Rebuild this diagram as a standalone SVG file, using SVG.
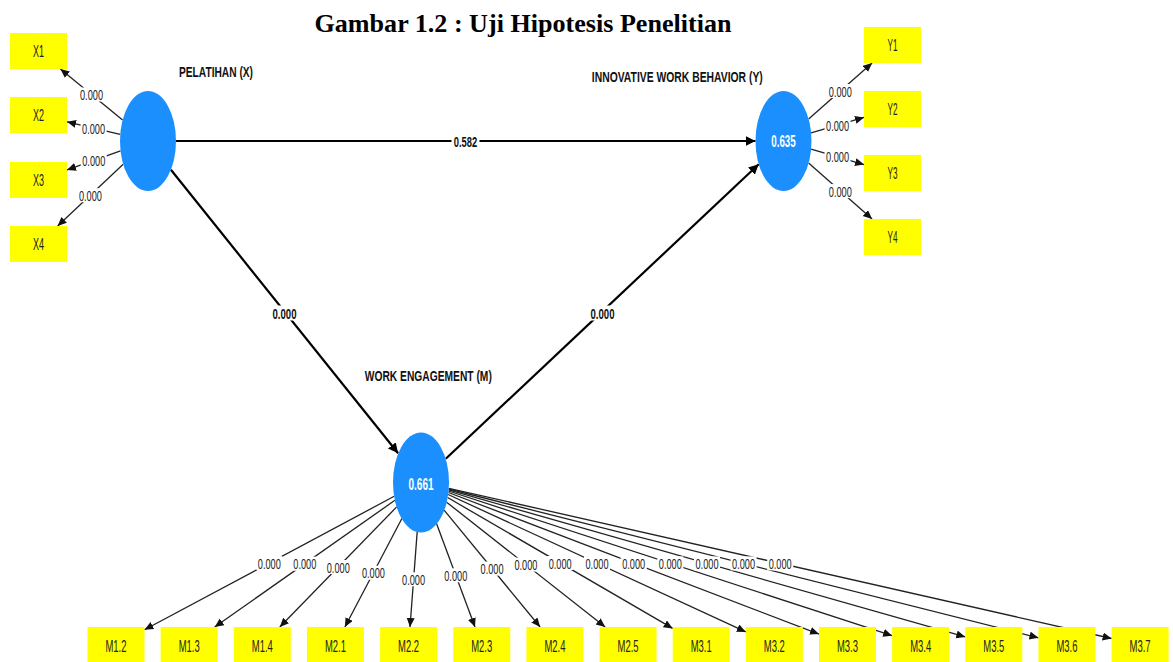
<svg xmlns="http://www.w3.org/2000/svg" width="1173" height="662" viewBox="0 0 1173 662">
<style>
.title{font-family:"Liberation Serif","Times New Roman",serif;font-weight:bold;font-size:26px;fill:#000}
.ind{fill:#ffff00}
.lv{fill:#1a8ffd}
.it{font-family:"Liberation Sans",Arial,sans-serif;font-size:16px;fill:#222;text-anchor:middle}
.vt{font-family:"Liberation Sans",Arial,sans-serif;font-size:16px;font-weight:bold;fill:#fff;text-anchor:middle}
.cn{font-family:"Liberation Sans",Arial,sans-serif;font-size:15px;font-weight:bold;fill:#111;text-anchor:middle}
.s{stroke:#000;stroke-width:2.2;fill:none}
.l{stroke:#222;stroke-width:1.3;fill:none}
.bg{fill:#fff}
.lt{font-family:"Liberation Sans",Arial,sans-serif;font-size:15.5px;fill:#222;text-anchor:middle}
.bt{font-family:"Liberation Sans",Arial,sans-serif;font-size:15px;font-weight:bold;fill:#111;text-anchor:middle}
</style>
<defs>
<marker id="big" markerUnits="userSpaceOnUse" markerWidth="11" markerHeight="11" refX="10" refY="5" orient="auto"><path d="M0,0 L10,5 L0,10 z" fill="#000"/></marker>
<marker id="sm" markerUnits="userSpaceOnUse" markerWidth="10" markerHeight="10" refX="9" refY="4" orient="auto"><path d="M0,0 L9,4 L0,8 z" fill="#111"/></marker>
</defs>
<text class="title" x="523" y="32" text-anchor="middle" textLength="417" lengthAdjust="spacingAndGlyphs">Gambar 1.2 : Uji Hipotesis Penelitian</text>
<g id="connectors">
<line class="s" x1="176" y1="141" x2="755.5" y2="141" marker-end="url(#big)"/>
<line class="s" x1="170.9" y1="169.7" x2="398.1" y2="453.3" marker-end="url(#big)"/>
<line class="s" x1="445.8" y1="458.7" x2="758.7" y2="164.3" marker-end="url(#big)"/>
<line class="l" x1="122.6" y1="120.1" x2="60.4" y2="69" marker-end="url(#sm)"/>
<line class="l" x1="120.2" y1="134.4" x2="67" y2="121.8" marker-end="url(#sm)"/>
<line class="l" x1="120.5" y1="150.8" x2="67" y2="169.9" marker-end="url(#sm)"/>
<line class="l" x1="123.2" y1="164.3" x2="57.6" y2="226" marker-end="url(#sm)"/>
<line class="l" x1="808.6" y1="118.9" x2="872.1" y2="63" marker-end="url(#sm)"/>
<line class="l" x1="811.1" y1="132.9" x2="864" y2="117.4" marker-end="url(#sm)"/>
<line class="l" x1="811.1" y1="149.1" x2="864" y2="164.6" marker-end="url(#sm)"/>
<line class="l" x1="808.6" y1="163.1" x2="872.1" y2="219" marker-end="url(#sm)"/>
<line class="l" x1="394.2" y1="496.3" x2="144.5" y2="629.8" marker-end="url(#sm)"/>
<line class="l" x1="394.9" y1="500.3" x2="214.7" y2="627" marker-end="url(#sm)"/>
<line class="l" x1="396.7" y1="506.9" x2="279.8" y2="627" marker-end="url(#sm)"/>
<line class="l" x1="401.9" y1="518.5" x2="344.9" y2="627" marker-end="url(#sm)"/>
<line class="l" x1="417.2" y1="531.6" x2="410" y2="627" marker-end="url(#sm)"/>
<line class="l" x1="436.5" y1="523.6" x2="475" y2="627" marker-end="url(#sm)"/>
<line class="l" x1="444.1" y1="510.2" x2="540.1" y2="627" marker-end="url(#sm)"/>
<line class="l" x1="446.6" y1="502.2" x2="605.2" y2="627" marker-end="url(#sm)"/>
<line class="l" x1="447.6" y1="497.5" x2="672.7" y2="628.4" marker-end="url(#sm)"/>
<line class="l" x1="448.1" y1="494.5" x2="745.85" y2="631.9" marker-end="url(#sm)"/>
<line class="l" x1="448.4" y1="492.5" x2="819" y2="634.1" marker-end="url(#sm)"/>
<line class="l" x1="448.5" y1="491" x2="892.15" y2="635.7" marker-end="url(#sm)"/>
<line class="l" x1="448.65" y1="489.9" x2="965.3" y2="636.9" marker-end="url(#sm)"/>
<line class="l" x1="448.7" y1="489" x2="1038.45" y2="637.8" marker-end="url(#sm)"/>
<line class="l" x1="448.8" y1="488.3" x2="1111.6" y2="638.5" marker-end="url(#sm)"/>
<rect class="bg" x="451.5" y="133.5" width="28" height="15"/><text class="bt" x="465.5" y="146.5" textLength="23.5" lengthAdjust="spacingAndGlyphs">0.582</text>
<rect class="bg" x="271" y="305.5" width="27" height="15"/><text class="bt" x="284.5" y="318.5" textLength="24" lengthAdjust="spacingAndGlyphs">0.000</text>
<rect class="bg" x="589" y="305.5" width="27" height="15"/><text class="bt" x="602.5" y="318.5" textLength="24" lengthAdjust="spacingAndGlyphs">0.000</text>
<g>
<rect class="bg" x="78.5" y="87.5" width="26" height="14"/><text class="lt" x="91.5" y="100" textLength="23" lengthAdjust="spacingAndGlyphs">0.000</text>
<rect class="bg" x="80.6" y="121.1" width="26" height="14"/><text class="lt" x="93.6" y="133.6" textLength="23" lengthAdjust="spacingAndGlyphs">0.000</text>
<rect class="bg" x="80.75" y="153.4" width="26" height="14"/><text class="lt" x="93.75" y="165.9" textLength="23" lengthAdjust="spacingAndGlyphs">0.000</text>
<rect class="bg" x="77.4" y="188.2" width="26" height="14"/><text class="lt" x="90.4" y="200.7" textLength="23" lengthAdjust="spacingAndGlyphs">0.000</text>
<rect class="bg" x="827.35" y="84" width="26" height="14"/><text class="lt" x="840.35" y="96.5" textLength="23" lengthAdjust="spacingAndGlyphs">0.000</text>
<rect class="bg" x="824.55" y="118.2" width="26" height="14"/><text class="lt" x="837.55" y="130.7" textLength="23" lengthAdjust="spacingAndGlyphs">0.000</text>
<rect class="bg" x="824.55" y="149.9" width="26" height="14"/><text class="lt" x="837.55" y="162.4" textLength="23" lengthAdjust="spacingAndGlyphs">0.000</text>
<rect class="bg" x="827.35" y="184.1" width="26" height="14"/><text class="lt" x="840.35" y="196.6" textLength="23" lengthAdjust="spacingAndGlyphs">0.000</text>
<rect class="bg" x="256.35" y="556.1" width="26" height="14"/><text class="lt" x="269.35" y="568.6" textLength="23" lengthAdjust="spacingAndGlyphs">0.000</text>
<rect class="bg" x="291.8" y="556.7" width="26" height="14"/><text class="lt" x="304.8" y="569.2" textLength="23" lengthAdjust="spacingAndGlyphs">0.000</text>
<rect class="bg" x="325.25" y="560" width="26" height="14"/><text class="lt" x="338.25" y="572.5" textLength="23" lengthAdjust="spacingAndGlyphs">0.000</text>
<rect class="bg" x="360.4" y="565.8" width="26" height="14"/><text class="lt" x="373.4" y="578.3" textLength="23" lengthAdjust="spacingAndGlyphs">0.000</text>
<rect class="bg" x="400.6" y="572.3" width="26" height="14"/><text class="lt" x="413.6" y="584.8" textLength="23" lengthAdjust="spacingAndGlyphs">0.000</text>
<rect class="bg" x="442.75" y="568.3" width="26" height="14"/><text class="lt" x="455.75" y="580.8" textLength="23" lengthAdjust="spacingAndGlyphs">0.000</text>
<rect class="bg" x="479.1" y="561.6" width="26" height="14"/><text class="lt" x="492.1" y="574.1" textLength="23" lengthAdjust="spacingAndGlyphs">0.000</text>
<rect class="bg" x="512.9" y="557.6" width="26" height="14"/><text class="lt" x="525.9" y="570.1" textLength="23" lengthAdjust="spacingAndGlyphs">0.000</text>
<rect class="bg" x="547.15" y="556" width="26" height="14"/><text class="lt" x="560.15" y="568.5" textLength="23" lengthAdjust="spacingAndGlyphs">0.000</text>
<rect class="bg" x="584" y="556.2" width="26" height="14"/><text class="lt" x="597" y="568.7" textLength="23" lengthAdjust="spacingAndGlyphs">0.000</text>
<rect class="bg" x="620.7" y="556.3" width="26" height="14"/><text class="lt" x="633.7" y="568.8" textLength="23" lengthAdjust="spacingAndGlyphs">0.000</text>
<rect class="bg" x="657.3" y="556.35" width="26" height="14"/><text class="lt" x="670.3" y="568.85" textLength="23" lengthAdjust="spacingAndGlyphs">0.000</text>
<rect class="bg" x="694" y="556.4" width="26" height="14"/><text class="lt" x="707" y="568.9" textLength="23" lengthAdjust="spacingAndGlyphs">0.000</text>
<rect class="bg" x="730.6" y="556.4" width="26" height="14"/><text class="lt" x="743.6" y="568.9" textLength="23" lengthAdjust="spacingAndGlyphs">0.000</text>
<rect class="bg" x="767.2" y="556.4" width="26" height="14"/><text class="lt" x="780.2" y="568.9" textLength="23" lengthAdjust="spacingAndGlyphs">0.000</text>
</g>
</g>
<g id="node-X">
<ellipse class="lv" cx="148" cy="141" rx="28" ry="50"/>
<text class="cn" x="216" y="77" textLength="74" lengthAdjust="spacingAndGlyphs">PELATIHAN (X)</text>
</g>
<g id="node-Y">
<ellipse class="lv" cx="783.5" cy="141" rx="28" ry="50"/>
<text class="vt" x="783.5" y="147" textLength="24.5" lengthAdjust="spacingAndGlyphs">0.635</text>
<text class="cn" x="677.3" y="82" textLength="171" lengthAdjust="spacingAndGlyphs">INNOVATIVE WORK BEHAVIOR (Y)</text>
</g>
<g id="node-M">
<ellipse class="lv" cx="421" cy="482.5" rx="28" ry="50"/>
<text class="vt" x="421" y="490" textLength="25" lengthAdjust="spacingAndGlyphs">0.661</text>
<text class="cn" x="428.3" y="381" textLength="127" lengthAdjust="spacingAndGlyphs">WORK ENGAGEMENT (M)</text>
</g>
<g id="node-X1"><rect class="ind" x="10" y="33" width="57" height="36"/><text class="it" x="38.5" y="57" textLength="11" lengthAdjust="spacingAndGlyphs">X1</text></g>
<g id="node-X2"><rect class="ind" x="10" y="97" width="57" height="36"/><text class="it" x="38.5" y="121" textLength="11" lengthAdjust="spacingAndGlyphs">X2</text></g>
<g id="node-X3"><rect class="ind" x="10" y="162" width="57" height="36"/><text class="it" x="38.5" y="186" textLength="11" lengthAdjust="spacingAndGlyphs">X3</text></g>
<g id="node-X4"><rect class="ind" x="10" y="226" width="57" height="36"/><text class="it" x="38.5" y="250" textLength="11" lengthAdjust="spacingAndGlyphs">X4</text></g>
<g id="node-Y1"><rect class="ind" x="864" y="27" width="57" height="36"/><text class="it" x="892.5" y="51" textLength="10" lengthAdjust="spacingAndGlyphs">Y1</text></g>
<g id="node-Y2"><rect class="ind" x="864" y="91" width="57" height="36"/><text class="it" x="892.5" y="115" textLength="10" lengthAdjust="spacingAndGlyphs">Y2</text></g>
<g id="node-Y3"><rect class="ind" x="864" y="155" width="57" height="36"/><text class="it" x="892.5" y="179" textLength="10" lengthAdjust="spacingAndGlyphs">Y3</text></g>
<g id="node-Y4"><rect class="ind" x="864" y="219" width="57" height="36"/><text class="it" x="892.5" y="243" textLength="10" lengthAdjust="spacingAndGlyphs">Y4</text></g>
<g id="node-M1.2"><rect class="ind" x="87.5" y="627" width="57" height="36"/><text class="it" x="116" y="651.5" textLength="21" lengthAdjust="spacingAndGlyphs">M1.2</text></g>
<g id="node-M1.3"><rect class="ind" x="160.65" y="627" width="57" height="36"/><text class="it" x="189.15" y="651.5" textLength="21" lengthAdjust="spacingAndGlyphs">M1.3</text></g>
<g id="node-M1.4"><rect class="ind" x="233.8" y="627" width="57" height="36"/><text class="it" x="262.3" y="651.5" textLength="21" lengthAdjust="spacingAndGlyphs">M1.4</text></g>
<g id="node-M2.1"><rect class="ind" x="306.95" y="627" width="57" height="36"/><text class="it" x="335.45" y="651.5" textLength="21" lengthAdjust="spacingAndGlyphs">M2.1</text></g>
<g id="node-M2.2"><rect class="ind" x="380.1" y="627" width="57" height="36"/><text class="it" x="408.6" y="651.5" textLength="21" lengthAdjust="spacingAndGlyphs">M2.2</text></g>
<g id="node-M2.3"><rect class="ind" x="453.25" y="627" width="57" height="36"/><text class="it" x="481.75" y="651.5" textLength="21" lengthAdjust="spacingAndGlyphs">M2.3</text></g>
<g id="node-M2.4"><rect class="ind" x="526.4" y="627" width="57" height="36"/><text class="it" x="554.9" y="651.5" textLength="21" lengthAdjust="spacingAndGlyphs">M2.4</text></g>
<g id="node-M2.5"><rect class="ind" x="599.55" y="627" width="57" height="36"/><text class="it" x="628.05" y="651.5" textLength="21" lengthAdjust="spacingAndGlyphs">M2.5</text></g>
<g id="node-M3.1"><rect class="ind" x="672.7" y="627" width="57" height="36"/><text class="it" x="701.2" y="651.5" textLength="21" lengthAdjust="spacingAndGlyphs">M3.1</text></g>
<g id="node-M3.2"><rect class="ind" x="745.85" y="627" width="57" height="36"/><text class="it" x="774.35" y="651.5" textLength="21" lengthAdjust="spacingAndGlyphs">M3.2</text></g>
<g id="node-M3.3"><rect class="ind" x="819" y="627" width="57" height="36"/><text class="it" x="847.5" y="651.5" textLength="21" lengthAdjust="spacingAndGlyphs">M3.3</text></g>
<g id="node-M3.4"><rect class="ind" x="892.15" y="627" width="57" height="36"/><text class="it" x="920.65" y="651.5" textLength="21" lengthAdjust="spacingAndGlyphs">M3.4</text></g>
<g id="node-M3.5"><rect class="ind" x="965.3" y="627" width="57" height="36"/><text class="it" x="993.8" y="651.5" textLength="21" lengthAdjust="spacingAndGlyphs">M3.5</text></g>
<g id="node-M3.6"><rect class="ind" x="1038.45" y="627" width="57" height="36"/><text class="it" x="1066.95" y="651.5" textLength="21" lengthAdjust="spacingAndGlyphs">M3.6</text></g>
<g id="node-M3.7"><rect class="ind" x="1111.6" y="627" width="57" height="36"/><text class="it" x="1140.1" y="651.5" textLength="21" lengthAdjust="spacingAndGlyphs">M3.7</text></g>
</svg>
